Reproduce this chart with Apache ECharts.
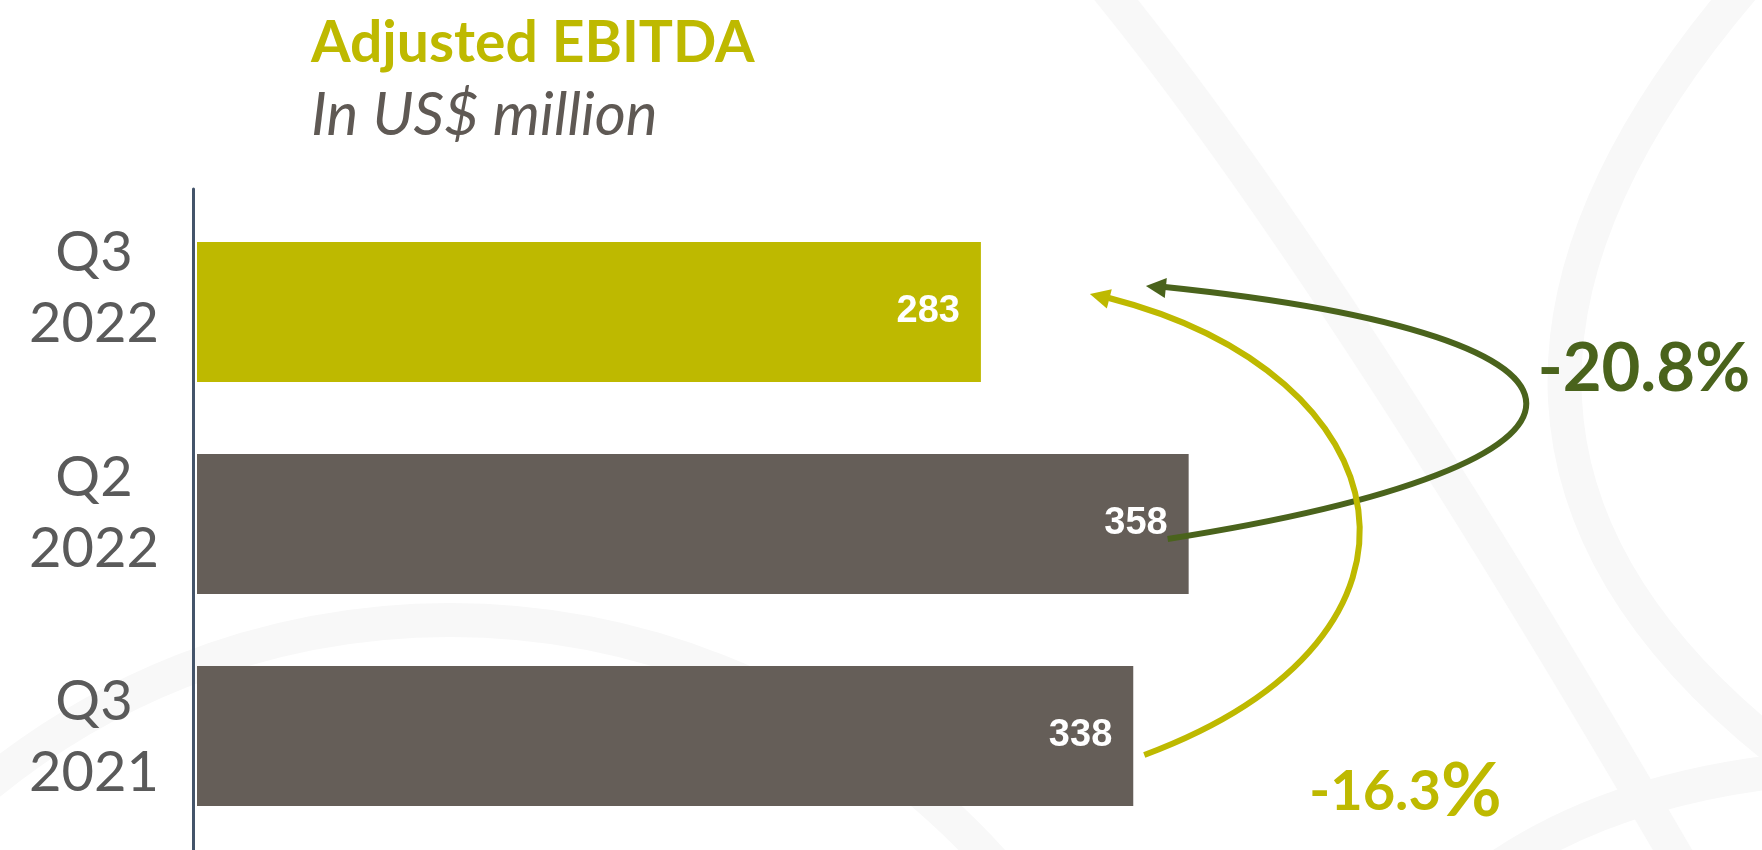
<!DOCTYPE html>
<html>
<head>
<meta charset="utf-8">
<script src="https://cdn.jsdelivr.net/npm/echarts@6/dist/echarts.min.js"></script>
<style>
html,body{margin:0;padding:0;background:#fff;}
#chart{width:1762px;height:850px;}
</style>
</head>
<body>
<div id="chart"></div>
<script>
// ---- data ----
const categories = ['Q3\n2022', 'Q2\n2022', 'Q3\n2021'];
const values = [283, 358, 338];
const changeLabels = ['-20.8', '-16.3'];   // vs Q2 2022, vs Q3 2021
const titleText = 'Adjusted EBITDA';
const subtitleText = 'In US$ million';

// ---- styles ----
const YELLOW = '#BEB900';
const GRAY = '#655E58';
const GREEN = '#4A631C';
const TEXTGRAY = '#5A5A5A';
const BAND = '#F8F8F8';

const chart = echarts.init(document.getElementById('chart'), null, {renderer: 'canvas'});

const option = {
  backgroundColor: '#ffffff',
  animation: false,
  grid: [
    {left: 197, right: 457, top: 206, bottom: 8},
    {left: 193, width: 10, top: 176, bottom: -12},
    {left: 193, width: 10, top: 189, bottom: -5}
  ],
  xAxis: [
    {gridIndex: 0, type: 'value', min: 0, max: 400, show: false},
    {gridIndex: 1, type: 'value', min: 0, max: 1, show: false},
    {gridIndex: 2, type: 'value', min: 0, max: 1, show: false}
  ],
  yAxis: [
    {gridIndex: 0, type: 'category', data: categories, inverse: true, show: false},
    {
      gridIndex: 1, type: 'category', data: categories, inverse: true,
      axisLine: {show: false},
      axisTick: {show: false},
      axisLabel: {
        show: true, margin: 99, align: 'center',
        fontFamily: 'Lato', fontSize: 56, lineHeight: 71, color: TEXTGRAY
      }
    },
    {
      gridIndex: 2, type: 'category', data: categories, inverse: true,
      axisLine: {show: true, lineStyle: {color: '#44546A', width: 3}},
      axisTick: {show: false},
      axisLabel: {show: false}
    }
  ],
  series: [{
    type: 'bar',
    xAxisIndex: 0, yAxisIndex: 0,
    data: values,
    barWidth: 140,
    itemStyle: {
      color: function (p) { return p.dataIndex === 0 ? YELLOW : GRAY; }
    },
    label: {
      show: true, position: 'insideRight', distance: 21,
      color: '#ffffff', fontFamily: 'Liberation Sans', fontWeight: 'bold', fontSize: 38
    }
  }]
};
chart.setOption(option);

// ---- annotations anchored to data pixels ----
function px(i) {
  return chart.convertToPixel({xAxisIndex: 0, yAxisIndex: 0}, [values[i], categories[i]]);
}
const p283 = px(0), p358 = px(1), p338 = px(2);

function arrowHead(tip, from, color) {
  const dx = tip[0] - from[0], dy = tip[1] - from[1];
  const len = Math.sqrt(dx * dx + dy * dy);
  const ux = dx / len, uy = dy / len;
  const nx = -uy, ny = ux;
  const L = 20, W = 10;
  return {
    type: 'polygon', z: 10,
    shape: {points: [
      [tip[0], tip[1]],
      [tip[0] - ux * L + nx * W, tip[1] - uy * L + ny * W],
      [tip[0] - ux * L - nx * W, tip[1] - uy * L - ny * W]
    ]},
    style: {fill: color}
  };
}

// green arrow: Q2 2022 -> Q3 2022
const g0 = [p358[0] - 21, p358[1] + 15];
const g3 = [p283[0] + 178, p283[1] - 25];
const g1 = [g0[0] + 478, g0[1] - 75];
const g2 = [g3[0] + 488, g3[1] + 50];
// yellow arrow: Q3 2021 -> Q3 2022
const y0 = [p338[0] + 11, p338[1] + 19];
const y3 = [p283[0] + 122, p283[1] - 16];
const y1 = [y0[0] + 322, y0[1] - 120];
const y2 = [y3[0] + 302, y3[1] + 78];

// faint background bands
const bg = [
  {type: 'circle', shape: {cx: 450, cy: 1350, r: 730}},
  {type: 'bezierCurve', shape: {x1: 1100, y1: -20, cpx1: 1330, cpy1: 260, x2: 1690, y2: 880}},
  {type: 'bezierCurve', shape: {x1: 1750, y1: -20, cpx1: 1360, cpy1: 430, x2: 1790, y2: 760}},
  {type: 'bezierCurve', shape: {x1: 1480, y1: 880, cpx1: 1600, cpy1: 790, x2: 1790, y2: 770}}
].map(b => Object.assign(b, {
  z: -10, silent: true,
  style: {fill: null, stroke: BAND, lineWidth: 34}
}));

chart.setOption({
  graphic: bg.concat([
    {
      type: 'text', left: 311, top: 15, z: 10,
      style: {text: titleText, fill: YELLOW, font: 'bold 57px Lato'}
    },
    {
      type: 'text', left: 311, top: 86, z: 10,
      style: {text: subtitleText, fill: '#5F5954', font: 'italic 60px Lato'}
    },
    {
      type: 'bezierCurve', z: 10,
      shape: {x1: g0[0], y1: g0[1], cpx1: g1[0], cpy1: g1[1], cpx2: g2[0], cpy2: g2[1], x2: g3[0] + 6, y2: g3[1]},
      style: {stroke: GREEN, lineWidth: 6, fill: null}
    },
    arrowHead([g3[0] - 13, g3[1] - 1], g2, GREEN),
    {
      type: 'bezierCurve', z: 10,
      shape: {x1: y0[0], y1: y0[1], cpx1: y1[0], cpy1: y1[1], cpx2: y2[0], cpy2: y2[1], x2: y3[0] + 6, y2: y3[1] + 2},
      style: {stroke: YELLOW, lineWidth: 6, fill: null}
    },
    arrowHead([y3[0] - 13, y3[1] - 2], y2, YELLOW),
    {
      type: 'text', z: 10,
      x: p358[0] + 349, y: p283[1] + 57,
      style: {text: changeLabels[0] + '%', fill: GREEN, font: 'bold 67px Lato', textVerticalAlign: 'middle'}
    },
    {
      type: 'text', z: 10,
      x: p338[0] + 176, y: p338[1] + 56,
      style: {
        text: '{a|' + changeLabels[1] + '}{b|%}',
        textVerticalAlign: 'middle',
        rich: {
          a: {fill: YELLOW, fontFamily: 'Lato', fontWeight: 'bold', fontSize: 56, color: YELLOW},
          b: {fill: YELLOW, fontFamily: 'Lato', fontWeight: 'bold', fontSize: 74, color: YELLOW}
        }
      }
    }
  ])
});
</script>
</body>
</html>
